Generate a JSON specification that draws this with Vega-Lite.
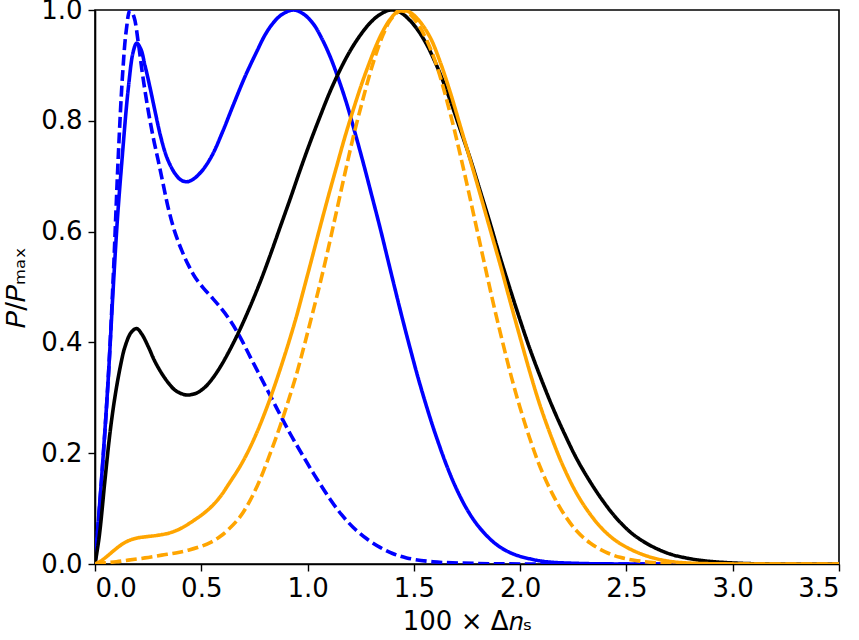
{
  "$schema": "https://vega.github.io/schema/vega-lite/v6.json",
  "width": 744,
  "height": 554,
  "autosize": {"type": "none"},
  "padding": {"left": 95, "top": 10, "right": 20, "bottom": 76},
  "background": "white",
  "config": {
    "view": {"stroke": "black", "strokeWidth": 1.6},
    "axis": {
      "grid": false,
      "domainColor": "black",
      "domainWidth": 1.6,
      "tickColor": "black",
      "tickWidth": 1.4,
      "tickSize": 7,
      "labelFont": "DejaVu Sans",
      "labelFontSize": 26,
      "labelColor": "black",
      "titleFont": "DejaVu Sans",
      "titleFontSize": 26,
      "titleFontWeight": "normal",
      "titleColor": "black"
    }
  },
  "datasets": {
    "curves": [
      {"x": 0, "y": 0, "s": "blue_solid"},
      {"x": 0.03, "y": 0.15, "s": "blue_solid"},
      {"x": 0.06, "y": 0.32, "s": "blue_solid"},
      {"x": 0.086, "y": 0.5, "s": "blue_solid"},
      {"x": 0.105, "y": 0.62, "s": "blue_solid"},
      {"x": 0.125, "y": 0.72, "s": "blue_solid"},
      {"x": 0.157, "y": 0.86, "s": "blue_solid"},
      {"x": 0.18, "y": 0.925, "s": "blue_solid"},
      {"x": 0.196, "y": 0.94, "s": "blue_solid"},
      {"x": 0.215, "y": 0.93, "s": "blue_solid"},
      {"x": 0.235, "y": 0.9, "s": "blue_solid"},
      {"x": 0.26, "y": 0.858, "s": "blue_solid"},
      {"x": 0.282, "y": 0.818, "s": "blue_solid"},
      {"x": 0.31, "y": 0.77, "s": "blue_solid"},
      {"x": 0.34, "y": 0.732, "s": "blue_solid"},
      {"x": 0.376, "y": 0.705, "s": "blue_solid"},
      {"x": 0.405, "y": 0.693, "s": "blue_solid"},
      {"x": 0.431, "y": 0.69, "s": "blue_solid"},
      {"x": 0.46, "y": 0.694, "s": "blue_solid"},
      {"x": 0.502, "y": 0.709, "s": "blue_solid"},
      {"x": 0.55, "y": 0.737, "s": "blue_solid"},
      {"x": 0.6, "y": 0.78, "s": "blue_solid"},
      {"x": 0.65, "y": 0.828, "s": "blue_solid"},
      {"x": 0.706, "y": 0.88, "s": "blue_solid"},
      {"x": 0.761, "y": 0.925, "s": "blue_solid"},
      {"x": 0.8, "y": 0.955, "s": "blue_solid"},
      {"x": 0.839, "y": 0.977, "s": "blue_solid"},
      {"x": 0.88, "y": 0.992, "s": "blue_solid"},
      {"x": 0.933, "y": 1.0, "s": "blue_solid"},
      {"x": 0.98, "y": 0.993, "s": "blue_solid"},
      {"x": 1.027, "y": 0.975, "s": "blue_solid"},
      {"x": 1.065, "y": 0.95, "s": "blue_solid"},
      {"x": 1.106, "y": 0.916, "s": "blue_solid"},
      {"x": 1.145, "y": 0.876, "s": "blue_solid"},
      {"x": 1.184, "y": 0.831, "s": "blue_solid"},
      {"x": 1.222, "y": 0.78, "s": "blue_solid"},
      {"x": 1.262, "y": 0.724, "s": "blue_solid"},
      {"x": 1.3, "y": 0.668, "s": "blue_solid"},
      {"x": 1.341, "y": 0.607, "s": "blue_solid"},
      {"x": 1.376, "y": 0.552, "s": "blue_solid"},
      {"x": 1.411, "y": 0.497, "s": "blue_solid"},
      {"x": 1.45, "y": 0.437, "s": "blue_solid"},
      {"x": 1.482, "y": 0.39, "s": "blue_solid"},
      {"x": 1.52, "y": 0.336, "s": "blue_solid"},
      {"x": 1.56, "y": 0.284, "s": "blue_solid"},
      {"x": 1.6, "y": 0.236, "s": "blue_solid"},
      {"x": 1.655, "y": 0.177, "s": "blue_solid"},
      {"x": 1.7, "y": 0.136, "s": "blue_solid"},
      {"x": 1.745, "y": 0.102, "s": "blue_solid"},
      {"x": 1.79, "y": 0.075, "s": "blue_solid"},
      {"x": 1.843, "y": 0.051, "s": "blue_solid"},
      {"x": 1.9, "y": 0.032, "s": "blue_solid"},
      {"x": 1.968, "y": 0.018, "s": "blue_solid"},
      {"x": 2.05, "y": 0.009, "s": "blue_solid"},
      {"x": 2.125, "y": 0.004, "s": "blue_solid"},
      {"x": 2.28, "y": 0.001, "s": "blue_solid"},
      {"x": 2.5, "y": 0, "s": "blue_solid"},
      {"x": 3.0, "y": 0, "s": "blue_solid"},
      {"x": 3.5, "y": 0, "s": "blue_solid"},

      {"x": 0, "y": 0, "s": "blue_dashed"},
      {"x": 0.031, "y": 0.152, "s": "blue_dashed"},
      {"x": 0.063, "y": 0.34, "s": "blue_dashed"},
      {"x": 0.086, "y": 0.52, "s": "blue_dashed"},
      {"x": 0.11, "y": 0.74, "s": "blue_dashed"},
      {"x": 0.13, "y": 0.885, "s": "blue_dashed"},
      {"x": 0.147, "y": 0.963, "s": "blue_dashed"},
      {"x": 0.165, "y": 1.0, "s": "blue_dashed"},
      {"x": 0.183, "y": 0.988, "s": "blue_dashed"},
      {"x": 0.204, "y": 0.94, "s": "blue_dashed"},
      {"x": 0.225, "y": 0.88, "s": "blue_dashed"},
      {"x": 0.251, "y": 0.817, "s": "blue_dashed"},
      {"x": 0.275, "y": 0.768, "s": "blue_dashed"},
      {"x": 0.298, "y": 0.727, "s": "blue_dashed"},
      {"x": 0.32, "y": 0.687, "s": "blue_dashed"},
      {"x": 0.345, "y": 0.642, "s": "blue_dashed"},
      {"x": 0.375, "y": 0.6, "s": "blue_dashed"},
      {"x": 0.408, "y": 0.566, "s": "blue_dashed"},
      {"x": 0.44, "y": 0.539, "s": "blue_dashed"},
      {"x": 0.47, "y": 0.518, "s": "blue_dashed"},
      {"x": 0.51, "y": 0.498, "s": "blue_dashed"},
      {"x": 0.55, "y": 0.481, "s": "blue_dashed"},
      {"x": 0.59, "y": 0.463, "s": "blue_dashed"},
      {"x": 0.635, "y": 0.44, "s": "blue_dashed"},
      {"x": 0.682, "y": 0.41, "s": "blue_dashed"},
      {"x": 0.73, "y": 0.374, "s": "blue_dashed"},
      {"x": 0.78, "y": 0.337, "s": "blue_dashed"},
      {"x": 0.823, "y": 0.305, "s": "blue_dashed"},
      {"x": 0.87, "y": 0.27, "s": "blue_dashed"},
      {"x": 0.917, "y": 0.236, "s": "blue_dashed"},
      {"x": 0.965, "y": 0.204, "s": "blue_dashed"},
      {"x": 1.011, "y": 0.174, "s": "blue_dashed"},
      {"x": 1.06, "y": 0.144, "s": "blue_dashed"},
      {"x": 1.106, "y": 0.117, "s": "blue_dashed"},
      {"x": 1.16, "y": 0.089, "s": "blue_dashed"},
      {"x": 1.215, "y": 0.066, "s": "blue_dashed"},
      {"x": 1.28, "y": 0.045, "s": "blue_dashed"},
      {"x": 1.341, "y": 0.03, "s": "blue_dashed"},
      {"x": 1.4, "y": 0.019, "s": "blue_dashed"},
      {"x": 1.466, "y": 0.011, "s": "blue_dashed"},
      {"x": 1.59, "y": 0.004, "s": "blue_dashed"},
      {"x": 1.8, "y": 0.001, "s": "blue_dashed"},
      {"x": 2.0, "y": 0, "s": "blue_dashed"},
      {"x": 2.5, "y": 0, "s": "blue_dashed"},
      {"x": 3.5, "y": 0, "s": "blue_dashed"},

      {"x": 0, "y": 0, "s": "black"},
      {"x": 0.02, "y": 0.05, "s": "black"},
      {"x": 0.047, "y": 0.152, "s": "black"},
      {"x": 0.07, "y": 0.235, "s": "black"},
      {"x": 0.094, "y": 0.302, "s": "black"},
      {"x": 0.12, "y": 0.358, "s": "black"},
      {"x": 0.141, "y": 0.392, "s": "black"},
      {"x": 0.17, "y": 0.418, "s": "black"},
      {"x": 0.196, "y": 0.425, "s": "black"},
      {"x": 0.22, "y": 0.415, "s": "black"},
      {"x": 0.251, "y": 0.392, "s": "black"},
      {"x": 0.28, "y": 0.367, "s": "black"},
      {"x": 0.314, "y": 0.344, "s": "black"},
      {"x": 0.345, "y": 0.327, "s": "black"},
      {"x": 0.376, "y": 0.314, "s": "black"},
      {"x": 0.41, "y": 0.307, "s": "black"},
      {"x": 0.439, "y": 0.305, "s": "black"},
      {"x": 0.48, "y": 0.309, "s": "black"},
      {"x": 0.517, "y": 0.319, "s": "black"},
      {"x": 0.555, "y": 0.336, "s": "black"},
      {"x": 0.596, "y": 0.36, "s": "black"},
      {"x": 0.635, "y": 0.387, "s": "black"},
      {"x": 0.674, "y": 0.417, "s": "black"},
      {"x": 0.72, "y": 0.456, "s": "black"},
      {"x": 0.776, "y": 0.508, "s": "black"},
      {"x": 0.82, "y": 0.553, "s": "black"},
      {"x": 0.87, "y": 0.607, "s": "black"},
      {"x": 0.92, "y": 0.661, "s": "black"},
      {"x": 0.964, "y": 0.71, "s": "black"},
      {"x": 1.01, "y": 0.759, "s": "black"},
      {"x": 1.058, "y": 0.807, "s": "black"},
      {"x": 1.105, "y": 0.852, "s": "black"},
      {"x": 1.153, "y": 0.892, "s": "black"},
      {"x": 1.2, "y": 0.926, "s": "black"},
      {"x": 1.247, "y": 0.954, "s": "black"},
      {"x": 1.295, "y": 0.977, "s": "black"},
      {"x": 1.341, "y": 0.992, "s": "black"},
      {"x": 1.39, "y": 1.0, "s": "black"},
      {"x": 1.435, "y": 0.996, "s": "black"},
      {"x": 1.482, "y": 0.981, "s": "black"},
      {"x": 1.52, "y": 0.963, "s": "black"},
      {"x": 1.56, "y": 0.938, "s": "black"},
      {"x": 1.6, "y": 0.906, "s": "black"},
      {"x": 1.635, "y": 0.874, "s": "black"},
      {"x": 1.67, "y": 0.838, "s": "black"},
      {"x": 1.715, "y": 0.788, "s": "black"},
      {"x": 1.764, "y": 0.733, "s": "black"},
      {"x": 1.81, "y": 0.676, "s": "black"},
      {"x": 1.858, "y": 0.616, "s": "black"},
      {"x": 1.9, "y": 0.561, "s": "black"},
      {"x": 1.952, "y": 0.497, "s": "black"},
      {"x": 2.0, "y": 0.44, "s": "black"},
      {"x": 2.046, "y": 0.388, "s": "black"},
      {"x": 2.1, "y": 0.333, "s": "black"},
      {"x": 2.156, "y": 0.28, "s": "black"},
      {"x": 2.21, "y": 0.234, "s": "black"},
      {"x": 2.266, "y": 0.19, "s": "black"},
      {"x": 2.33, "y": 0.148, "s": "black"},
      {"x": 2.391, "y": 0.113, "s": "black"},
      {"x": 2.45, "y": 0.084, "s": "black"},
      {"x": 2.517, "y": 0.058, "s": "black"},
      {"x": 2.57, "y": 0.043, "s": "black"},
      {"x": 2.63, "y": 0.03, "s": "black"},
      {"x": 2.705, "y": 0.018, "s": "black"},
      {"x": 2.78, "y": 0.011, "s": "black"},
      {"x": 2.862, "y": 0.006, "s": "black"},
      {"x": 3.02, "y": 0.0015, "s": "black"},
      {"x": 3.2, "y": 0, "s": "black"},
      {"x": 3.5, "y": 0, "s": "black"},

      {"x": 0, "y": 0, "s": "orange_solid"},
      {"x": 0.03, "y": 0.006, "s": "orange_solid"},
      {"x": 0.06, "y": 0.015, "s": "orange_solid"},
      {"x": 0.094, "y": 0.026, "s": "orange_solid"},
      {"x": 0.125, "y": 0.035, "s": "orange_solid"},
      {"x": 0.157, "y": 0.042, "s": "orange_solid"},
      {"x": 0.2, "y": 0.047, "s": "orange_solid"},
      {"x": 0.235, "y": 0.049, "s": "orange_solid"},
      {"x": 0.28, "y": 0.051, "s": "orange_solid"},
      {"x": 0.314, "y": 0.053, "s": "orange_solid"},
      {"x": 0.35, "y": 0.056, "s": "orange_solid"},
      {"x": 0.392, "y": 0.062, "s": "orange_solid"},
      {"x": 0.43, "y": 0.07, "s": "orange_solid"},
      {"x": 0.47, "y": 0.08, "s": "orange_solid"},
      {"x": 0.51, "y": 0.091, "s": "orange_solid"},
      {"x": 0.549, "y": 0.104, "s": "orange_solid"},
      {"x": 0.59, "y": 0.122, "s": "orange_solid"},
      {"x": 0.627, "y": 0.143, "s": "orange_solid"},
      {"x": 0.682, "y": 0.176, "s": "orange_solid"},
      {"x": 0.72, "y": 0.203, "s": "orange_solid"},
      {"x": 0.761, "y": 0.237, "s": "orange_solid"},
      {"x": 0.8, "y": 0.274, "s": "orange_solid"},
      {"x": 0.839, "y": 0.315, "s": "orange_solid"},
      {"x": 0.88, "y": 0.362, "s": "orange_solid"},
      {"x": 0.917, "y": 0.407, "s": "orange_solid"},
      {"x": 0.95, "y": 0.45, "s": "orange_solid"},
      {"x": 0.98, "y": 0.493, "s": "orange_solid"},
      {"x": 1.02, "y": 0.551, "s": "orange_solid"},
      {"x": 1.058, "y": 0.607, "s": "orange_solid"},
      {"x": 1.1, "y": 0.667, "s": "orange_solid"},
      {"x": 1.137, "y": 0.718, "s": "orange_solid"},
      {"x": 1.175, "y": 0.77, "s": "orange_solid"},
      {"x": 1.215, "y": 0.82, "s": "orange_solid"},
      {"x": 1.255, "y": 0.867, "s": "orange_solid"},
      {"x": 1.294, "y": 0.908, "s": "orange_solid"},
      {"x": 1.325, "y": 0.938, "s": "orange_solid"},
      {"x": 1.356, "y": 0.963, "s": "orange_solid"},
      {"x": 1.39, "y": 0.984, "s": "orange_solid"},
      {"x": 1.435, "y": 1.0, "s": "orange_solid"},
      {"x": 1.48, "y": 0.996, "s": "orange_solid"},
      {"x": 1.52, "y": 0.983, "s": "orange_solid"},
      {"x": 1.576, "y": 0.951, "s": "orange_solid"},
      {"x": 1.623, "y": 0.907, "s": "orange_solid"},
      {"x": 1.67, "y": 0.853, "s": "orange_solid"},
      {"x": 1.715, "y": 0.795, "s": "orange_solid"},
      {"x": 1.764, "y": 0.731, "s": "orange_solid"},
      {"x": 1.81, "y": 0.67, "s": "orange_solid"},
      {"x": 1.858, "y": 0.605, "s": "orange_solid"},
      {"x": 1.91, "y": 0.535, "s": "orange_solid"},
      {"x": 1.95, "y": 0.478, "s": "orange_solid"},
      {"x": 1.999, "y": 0.41, "s": "orange_solid"},
      {"x": 2.046, "y": 0.346, "s": "orange_solid"},
      {"x": 2.093, "y": 0.287, "s": "orange_solid"},
      {"x": 2.15, "y": 0.226, "s": "orange_solid"},
      {"x": 2.203, "y": 0.176, "s": "orange_solid"},
      {"x": 2.265, "y": 0.128, "s": "orange_solid"},
      {"x": 2.329, "y": 0.09, "s": "orange_solid"},
      {"x": 2.39, "y": 0.062, "s": "orange_solid"},
      {"x": 2.454, "y": 0.041, "s": "orange_solid"},
      {"x": 2.517, "y": 0.027, "s": "orange_solid"},
      {"x": 2.57, "y": 0.018, "s": "orange_solid"},
      {"x": 2.626, "y": 0.011, "s": "orange_solid"},
      {"x": 2.7, "y": 0.005, "s": "orange_solid"},
      {"x": 2.78, "y": 0.002, "s": "orange_solid"},
      {"x": 3.0, "y": 0, "s": "orange_solid"},
      {"x": 3.5, "y": 0, "s": "orange_solid"},

      {"x": 0, "y": 0, "s": "orange_dashed"},
      {"x": 0.047, "y": 0.002, "s": "orange_dashed"},
      {"x": 0.1, "y": 0.004, "s": "orange_dashed"},
      {"x": 0.157, "y": 0.007, "s": "orange_dashed"},
      {"x": 0.235, "y": 0.011, "s": "orange_dashed"},
      {"x": 0.314, "y": 0.016, "s": "orange_dashed"},
      {"x": 0.38, "y": 0.02, "s": "orange_dashed"},
      {"x": 0.439, "y": 0.025, "s": "orange_dashed"},
      {"x": 0.5, "y": 0.032, "s": "orange_dashed"},
      {"x": 0.549, "y": 0.04, "s": "orange_dashed"},
      {"x": 0.59, "y": 0.05, "s": "orange_dashed"},
      {"x": 0.627, "y": 0.062, "s": "orange_dashed"},
      {"x": 0.682, "y": 0.085, "s": "orange_dashed"},
      {"x": 0.73, "y": 0.115, "s": "orange_dashed"},
      {"x": 0.776, "y": 0.152, "s": "orange_dashed"},
      {"x": 0.82, "y": 0.195, "s": "orange_dashed"},
      {"x": 0.87, "y": 0.248, "s": "orange_dashed"},
      {"x": 0.91, "y": 0.295, "s": "orange_dashed"},
      {"x": 0.949, "y": 0.344, "s": "orange_dashed"},
      {"x": 0.98, "y": 0.388, "s": "orange_dashed"},
      {"x": 1.011, "y": 0.434, "s": "orange_dashed"},
      {"x": 1.058, "y": 0.505, "s": "orange_dashed"},
      {"x": 1.1, "y": 0.574, "s": "orange_dashed"},
      {"x": 1.137, "y": 0.638, "s": "orange_dashed"},
      {"x": 1.175, "y": 0.704, "s": "orange_dashed"},
      {"x": 1.215, "y": 0.771, "s": "orange_dashed"},
      {"x": 1.255, "y": 0.831, "s": "orange_dashed"},
      {"x": 1.294, "y": 0.886, "s": "orange_dashed"},
      {"x": 1.325, "y": 0.924, "s": "orange_dashed"},
      {"x": 1.356, "y": 0.956, "s": "orange_dashed"},
      {"x": 1.39, "y": 0.982, "s": "orange_dashed"},
      {"x": 1.435, "y": 0.998, "s": "orange_dashed"},
      {"x": 1.475, "y": 0.994, "s": "orange_dashed"},
      {"x": 1.515, "y": 0.977, "s": "orange_dashed"},
      {"x": 1.56, "y": 0.946, "s": "orange_dashed"},
      {"x": 1.607, "y": 0.9, "s": "orange_dashed"},
      {"x": 1.67, "y": 0.815, "s": "orange_dashed"},
      {"x": 1.733, "y": 0.714, "s": "orange_dashed"},
      {"x": 1.796, "y": 0.605, "s": "orange_dashed"},
      {"x": 1.843, "y": 0.523, "s": "orange_dashed"},
      {"x": 1.88, "y": 0.46, "s": "orange_dashed"},
      {"x": 1.921, "y": 0.395, "s": "orange_dashed"},
      {"x": 1.96, "y": 0.336, "s": "orange_dashed"},
      {"x": 1.999, "y": 0.283, "s": "orange_dashed"},
      {"x": 2.045, "y": 0.227, "s": "orange_dashed"},
      {"x": 2.093, "y": 0.176, "s": "orange_dashed"},
      {"x": 2.15, "y": 0.128, "s": "orange_dashed"},
      {"x": 2.203, "y": 0.092, "s": "orange_dashed"},
      {"x": 2.265, "y": 0.06, "s": "orange_dashed"},
      {"x": 2.329, "y": 0.038, "s": "orange_dashed"},
      {"x": 2.4, "y": 0.022, "s": "orange_dashed"},
      {"x": 2.47, "y": 0.012, "s": "orange_dashed"},
      {"x": 2.55, "y": 0.006, "s": "orange_dashed"},
      {"x": 2.65, "y": 0.002, "s": "orange_dashed"},
      {"x": 2.8, "y": 0, "s": "orange_dashed"},
      {"x": 3.1, "y": 0, "s": "orange_dashed"},
      {"x": 3.5, "y": 0, "s": "orange_dashed"}
    ]
  },
  "data": {"name": "curves"},
  "mark": {"type": "line", "interpolate": "catmull-rom", "strokeWidth": 3.6, "clip": true},
  "encoding": {
    "x": {
      "field": "x",
      "type": "quantitative",
      "scale": {"domain": [0, 3.5], "nice": false, "zero": false},
      "axis": {
        "values": [0, 0.5, 1, 1.5, 2, 2.5, 3, 3.5],
        "format": ".1f",
        "labelPadding": 4,
        "title": "100 × Δ𝑛ₛ",
        "titlePadding": 7
      }
    },
    "y": {
      "field": "y",
      "type": "quantitative",
      "scale": {"domain": [0, 1], "nice": false},
      "axis": {
        "values": [0, 0.2, 0.4, 0.6, 0.8, 1.0],
        "format": ".1f",
        "labelPadding": 6,
        "title": "𝑃/𝑃ₘₐₓ",
        "titlePadding": 11
      }
    },
    "color": {
      "field": "s",
      "type": "nominal",
      "scale": {
        "domain": ["orange_dashed", "orange_solid", "black", "blue_dashed", "blue_solid"],
        "range": ["#ffa500", "#ffa500", "#000000", "#0000ff", "#0000ff"]
      },
      "legend": null
    },
    "strokeDash": {
      "field": "s",
      "type": "nominal",
      "scale": {
        "domain": ["orange_dashed", "orange_solid", "black", "blue_dashed", "blue_solid"],
        "range": [[11, 4.6], [1, 0], [1, 0], [11, 4.6], [1, 0]]
      },
      "legend": null
    }
  }
}
